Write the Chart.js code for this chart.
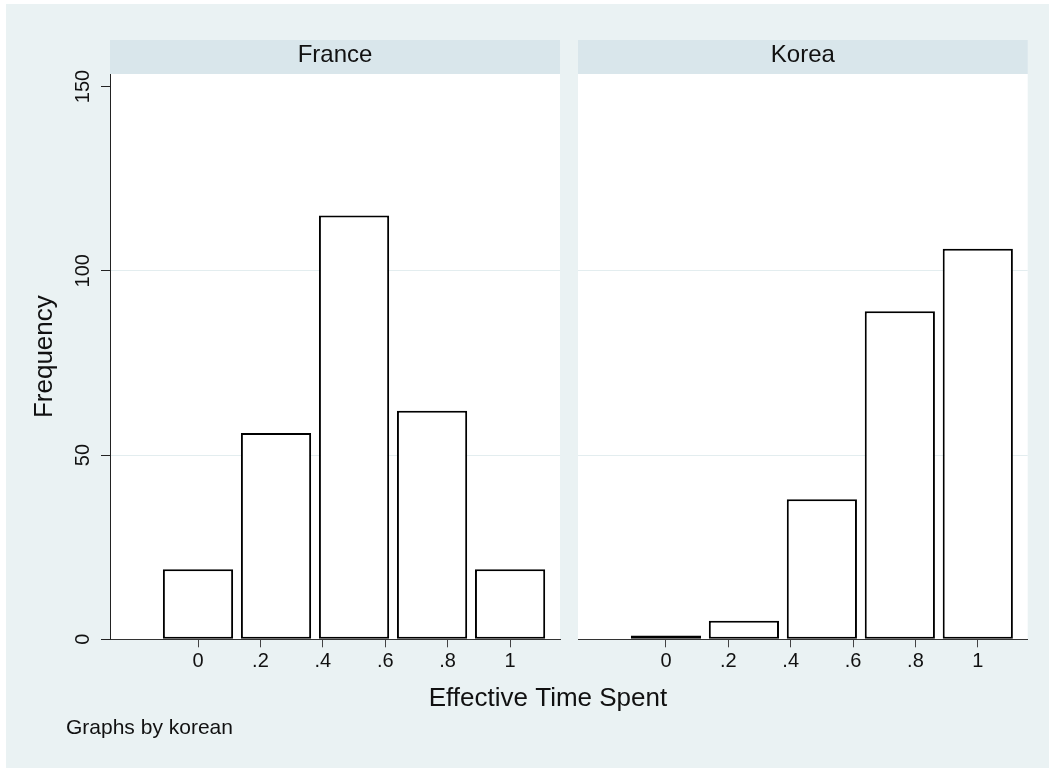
<!DOCTYPE html>
<html>
<head>
<meta charset="utf-8">
<title>Effective Time Spent, graphs by korean</title>
<script src="https://cdn.jsdelivr.net/npm/chart.js@4.4.1/dist/chart.umd.min.js"></script>
<style>
  html, body { margin: 0; padding: 0; background: #fff; }
  #graph { position: absolute; left: 6px; top: 4px; width: 1043px; height: 764px; background: #EAF2F3; overflow: hidden; }
  canvas { position: absolute; top: 0; }
  #france { left: 0; }
  #korea { left: 563px; }
</style>
</head>
<body>
<div id="graph">
  <canvas id="france" width="1043" height="764"></canvas>
  <canvas id="korea" width="480" height="764"></canvas>
</div>
<script>
// histogram bins (width .25) and counts per panel
const binCenters = [0, 0.25, 0.5, 0.75, 1];
const franceCounts = [19, 56, 115, 62, 19];
const koreaCounts = [1, 5, 38, 89, 106];
const panelNames = ['France', 'Korea'];
const xTickValues = [0, 0.2, 0.4, 0.6, 0.8, 1];
const xTickLabels = ['0', '.2', '.4', '.6', '.8', '1'];
const yTickValues = [0, 50, 100, 150];
const yTitle = 'Frequency';
const xTitle = 'Effective Time Spent';
const note = 'Graphs by korean';

const binWidth = 0.25;
const tickStep = 0.2;
const fontFamily = "'Liberation Sans', Arial, Helvetica, sans-serif";
Chart.defaults.font.family = fontFamily;
Chart.defaults.color = '#111';

const stataPanel = {
    id: 'stataPanel',
    beforeDraw(chart, args, opts) {
        const { ctx, chartArea: a } = chart;
        ctx.save();
        ctx.fillStyle = '#ffffff';
        ctx.fillRect(a.left, a.top, a.right - a.left, a.bottom - a.top);
        // panel header
        ctx.fillStyle = '#D9E6EB';
        ctx.fillRect(a.left, a.top - 34, a.right - a.left, 34);
        ctx.fillStyle = '#111';
        ctx.font = `24px ${fontFamily}`;
        ctx.textAlign = 'center';
        ctx.textBaseline = 'middle';
        ctx.fillText(opts.text, (a.left + a.right) / 2, a.top - 19);
        ctx.restore();
    },
    afterDraw(chart, args, opts) {
        if (!opts.footer) return;
        const ctx = chart.ctx;
        ctx.save();
        ctx.fillStyle = '#111';
        ctx.textBaseline = 'middle';
        ctx.font = `26px ${fontFamily}`;
        ctx.textAlign = 'center';
        ctx.fillText(xTitle, 542, 695);
        ctx.font = `21px ${fontFamily}`;
        ctx.textAlign = 'left';
        ctx.fillText(note, 60, 724);
        ctx.restore();
    }
};

const gridColor = ctx => (ctx.tick && (ctx.tick.value === 50 || ctx.tick.value === 100)) ? '#E3EDEF' : 'rgba(0,0,0,0)';

const makeConfig = (name, counts, showY, padding) => ({
    type: 'bar',
    data: {
        datasets: [{
            label: name,
            data: binCenters.map((x, i) => ({ x: x, y: counts[i] })),
            backgroundColor: '#ffffff',
            borderColor: '#000000',
            borderWidth: 2,
            borderSkipped: false,
            categoryPercentage: 1,
            barPercentage: 0.9 * binWidth / tickStep
        }]
    },
    options: {
        responsive: false,
        animation: false,
        devicePixelRatio: 1,
        layout: { padding: padding },
        plugins: {
            legend: { display: false },
            tooltip: { enabled: false },
            stataPanel: { text: name, footer: showY }
        },
        scales: {
            x: {
                type: 'linear',
                min: -0.282,
                max: 1.16,
                offset: false,
                afterBuildTicks: s => { s.ticks = xTickValues.map(v => ({ value: v })); },
                afterFit: s => { s.height = 128.7; },
                border: { color: '#333', width: 1 },
                grid: { drawOnChartArea: false, offset: false, tickLength: 8, tickColor: '#444' },
                ticks: {
                    autoSkip: false, maxRotation: 0, padding: 2,
                    color: '#111', font: { size: 20 },
                    callback: (v, i) => xTickLabels[i]
                }
            },
            y: {
                min: 0,
                max: 153.4,
                afterBuildTicks: s => { s.ticks = yTickValues.map(v => ({ value: v })); },
                afterFit: s => { s.width = showY ? 104 : 0; },
                border: { display: showY, color: '#222', width: 1 },
                grid: { color: gridColor, drawTicks: showY, tickLength: 9, tickColor: '#222' },
                ticks: {
                    display: showY, minRotation: 90, maxRotation: 90,
                    crossAlign: 'center', padding: 1,
                    color: '#111', font: { size: 20 }
                },
                title: {
                    display: showY, text: yTitle, color: '#111',
                    font: { size: 26 }, padding: { top: 23.4, bottom: 0 }
                }
            }
        }
    },
    plugins: [stataPanel]
});

const chartFrance = new Chart(document.getElementById('france'),
    makeConfig(panelNames[0], franceCounts, true, { top: 70, left: 0, right: 489, bottom: 0 }));
const chartKorea = new Chart(document.getElementById('korea'),
    makeConfig(panelNames[1], koreaCounts, false, { top: 70, left: 9, right: 21.3, bottom: 0 }));
</script>
</body>
</html>
